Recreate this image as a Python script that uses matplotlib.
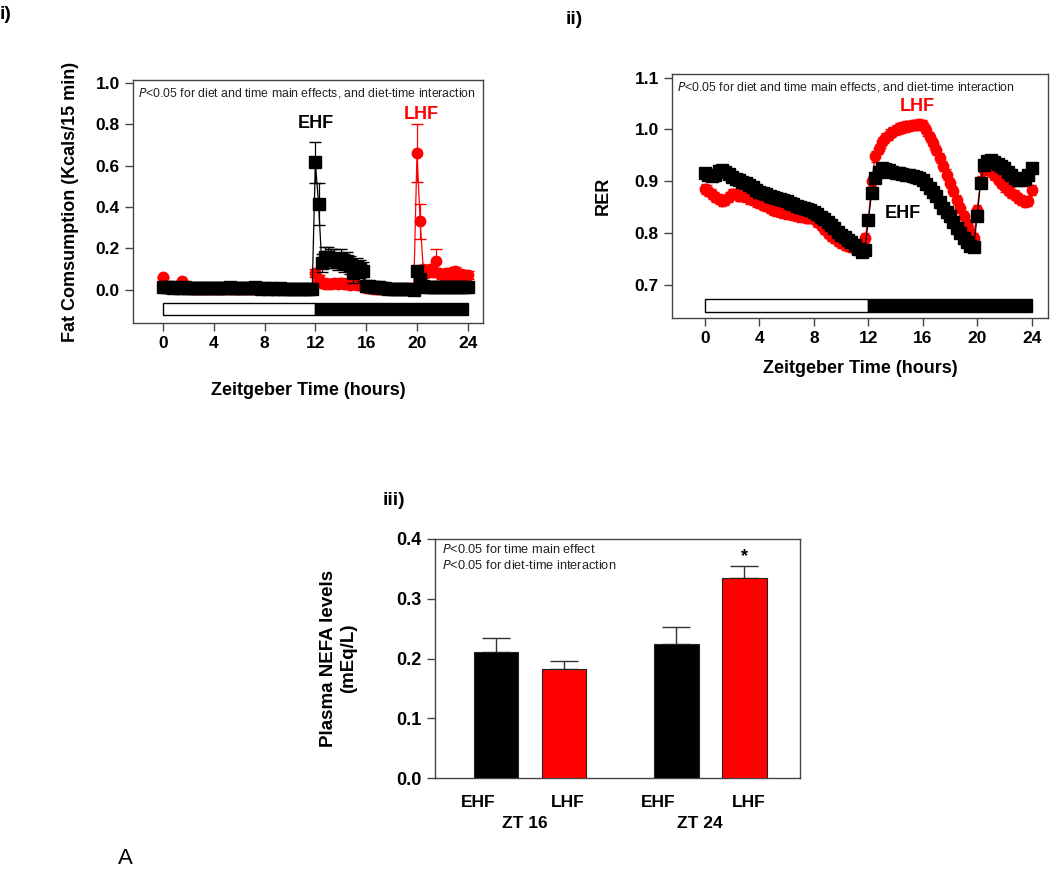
import numpy as np
import matplotlib
matplotlib.use("Agg")
import matplotlib.pyplot as plt
from matplotlib.patches import Rectangle

plt.rcParams['font.family'] = ['Liberation Sans', 'DejaVu Sans']

# time axis, 15 min bins
zt = np.arange(97) * 0.25

# fat consumption (Kcals/15 min)
fat_ehf = [0.015, 0.012, 0.012, 0.010, 0.012, 0.010, 0.010, 0.012,
           0.010, 0.008, 0.010, 0.008, 0.008, 0.010, 0.008, 0.008,
           0.010, 0.008, 0.008, 0.010, 0.008, 0.012, 0.010, 0.008,
           0.008, 0.010, 0.010, 0.008, 0.008, 0.012, 0.008, 0.006,
           0.008, 0.006, 0.008, 0.006, 0.006, 0.008, 0.006, 0.004,
           0.004, 0.003, 0.002, 0.002, 0.002, 0.002, 0.003, 0.003,
           0.615, 0.415, 0.130, 0.160, 0.160, 0.150, 0.150, 0.140,
           0.150, 0.130, 0.140, 0.120, 0.080, 0.110, 0.100, 0.090,
           0.020, 0.018, 0.015, 0.015, 0.012, 0.010, 0.008, 0.006,
           0.006, 0.004, 0.004, 0.005, 0.004, 0.003, 0.002, 0.000,
           0.090, 0.050, 0.020, 0.015, 0.012, 0.012, 0.015, 0.012,
           0.012, 0.015, 0.012, 0.012, 0.015, 0.012, 0.012, 0.015,
           0.015]
fat_ehf_err = [0.005] * 48 + [0.10, 0.10] + [0.045] * 14 + [0.006] * 16 + \
              [0.02, 0.01] + [0.006] * 15
fat_lhf = [0.060, 0.010, 0.008, 0.008, 0.008, 0.008, 0.042, 0.008,
           0.006, 0.005, 0.005, 0.005, 0.004, 0.005, 0.004, 0.004,
           0.004, 0.005, 0.004, 0.004, 0.004, 0.004, 0.005, 0.004,
           0.004, 0.004, 0.005, 0.004, 0.004, 0.004, 0.004, 0.003,
           0.004, 0.003, 0.004, 0.003, 0.003, 0.004, 0.003, 0.003,
           0.003, 0.003, 0.003, 0.003, 0.003, 0.004, 0.004, 0.005,
           0.080, 0.050, 0.035, 0.030, 0.030, 0.028, 0.032, 0.030,
           0.035, 0.030, 0.028, 0.025, 0.028, 0.025, 0.022, 0.020,
           0.010, 0.008, 0.006, 0.005, 0.005, 0.004, 0.004, 0.004,
           0.004, 0.003, 0.003, 0.003, 0.003, 0.004, 0.005, 0.010,
           0.660, 0.330, 0.100, 0.080, 0.100, 0.085, 0.140, 0.080,
           0.070, 0.080, 0.065, 0.085, 0.090, 0.065, 0.075, 0.070,
           0.070]
fat_lhf_err = [0.004] * 48 + [0.02] * 32 + [0.14, 0.085, 0.02, 0.02, 0.02, 0.02,
              0.055] + [0.02] * 10

# RER
rer_ehf = [0.915, 0.912, 0.910, 0.912, 0.920, 0.922, 0.918, 0.914,
           0.909, 0.905, 0.902, 0.899, 0.897, 0.893, 0.889, 0.884,
           0.880, 0.878, 0.875, 0.872, 0.870, 0.868, 0.866, 0.863,
           0.861, 0.858, 0.856, 0.853, 0.851, 0.849, 0.846, 0.844,
           0.841, 0.836, 0.831, 0.827, 0.822, 0.815, 0.809, 0.803,
           0.797, 0.792, 0.787, 0.782, 0.777, 0.770, 0.763, 0.768,
           0.825, 0.878, 0.906, 0.918, 0.925, 0.924, 0.921, 0.918,
           0.916, 0.915, 0.914, 0.913, 0.912, 0.911, 0.909, 0.907,
           0.903, 0.895, 0.887, 0.880, 0.872, 0.860, 0.848, 0.840,
           0.832, 0.821, 0.810, 0.800, 0.791, 0.783, 0.776, 0.774,
           0.832, 0.897, 0.932, 0.940, 0.941, 0.938, 0.934, 0.930,
           0.925, 0.918, 0.912, 0.907, 0.903, 0.902, 0.905, 0.912,
           0.925]
rer_lhf = [0.885, 0.882, 0.876, 0.870, 0.866, 0.862, 0.864, 0.870,
           0.875, 0.876, 0.872, 0.871, 0.870, 0.867, 0.864, 0.861,
           0.858, 0.855, 0.852, 0.848, 0.845, 0.843, 0.841, 0.840,
           0.838, 0.837, 0.835, 0.834, 0.832, 0.831, 0.830, 0.830,
           0.829, 0.822, 0.815, 0.808, 0.800, 0.795, 0.790, 0.785,
           0.781, 0.778, 0.775, 0.773, 0.771, 0.770, 0.772, 0.790,
           0.825, 0.900, 0.948, 0.962, 0.975, 0.983, 0.990, 0.995,
           0.999, 1.002, 1.004, 1.006, 1.007, 1.008, 1.009, 1.010,
           1.008, 0.998, 0.986, 0.973, 0.960, 0.945, 0.929, 0.913,
           0.897, 0.881, 0.864, 0.848, 0.832, 0.818, 0.803, 0.790,
           0.845, 0.900, 0.922, 0.925, 0.920, 0.912, 0.905, 0.897,
           0.890, 0.884, 0.878, 0.873, 0.868, 0.864, 0.860, 0.862,
           0.883]
rer_ehf_err = [0.004] * 97
rer_lhf_err = [0.010] * 97

# plasma NEFA
nefa_groups = ['EHF', 'LHF', 'EHF', 'LHF']
nefa_vals = [0.211, 0.183, 0.225, 0.335]
nefa_err = [0.023, 0.012, 0.028, 0.019]
nefa_colors = ['black', 'red', 'black', 'red']
nefa_pos = [0, 1, 2.65, 3.65]
nefa_label_pos = [-0.265, 1.06, 2.38, 3.71]
zt_groups = ['ZT 16', 'ZT 24']
zt_group_pos = [0.43, 3.0]

fig = plt.figure(figsize=(10.5, 8.73), dpi=100)

spine_col = '#444444'


def style(ax):
    for s in ax.spines.values():
        s.set_color(spine_col)
        s.set_linewidth(1.0)
    ax.tick_params(direction='out', length=6, width=1, color=spine_col,
                   labelsize=12.5, top=False, right=False)
    for lab in ax.get_xticklabels() + ax.get_yticklabels():
        lab.set_fontweight('bold')


def light_dark(ax, y0, h):
    ax.add_patch(Rectangle((0, y0), 12, h, facecolor='white', edgecolor='black', lw=1, zorder=3))
    ax.add_patch(Rectangle((12, y0), 12, h, facecolor='black', edgecolor='black', lw=1, zorder=3))


ptxt = '$\\it{P}$<0.05 for diet and time main effects, and diet-time interaction'

# ---- panel i
ax1 = fig.add_axes([0.1267, 0.630, 0.3333, 0.2784])
ax1.errorbar(zt, fat_lhf, yerr=fat_lhf_err, color='red', lw=0.9, marker='o', ms=7.5,
             capsize=4, elinewidth=0.9, zorder=4)
ax1.errorbar(zt, fat_ehf, yerr=fat_ehf_err, color='black', lw=0.9, marker='s', ms=9,
             capsize=4, elinewidth=0.9, zorder=5)
light_dark(ax1, -0.12, 0.057)
ax1.set_xlim(-2.36, 25.2)
ax1.set_ylim(-0.16, 1.013)
ax1.set_xticks(range(0, 25, 4))
ax1.set_yticks([0.0, 0.2, 0.4, 0.6, 0.8, 1.0])
ax1.set_yticklabels(['0.0', '0.2', '0.4', '0.6', '0.8', '1.0'])
style(ax1)
ax1.set_xlabel('Zeitgeber Time (hours)', fontsize=13, fontweight='bold', labelpad=22)
ax1.set_ylabel('Fat Comsumption (Kcals/15 min)', fontsize=13, fontweight='bold', labelpad=12)
ax1.text(0.013, 0.975, ptxt, transform=ax1.transAxes, fontsize=8.8, va='top', ha='left',
         color='#222222')
ax1.text(12.0, 0.805, 'EHF', fontsize=13, fontweight='bold', ha='center', va='center')
ax1.text(20.3, 0.845, 'LHF', fontsize=13, fontweight='bold', ha='center', va='center', color='red')
fig.text(0.0, 0.983, 'i)', fontsize=14, fontweight='bold', ha='left', va='center')

# ---- panel ii
ax2 = fig.add_axes([0.640, 0.6357, 0.358, 0.2795])
ax2.errorbar(zt, rer_lhf, yerr=rer_lhf_err, color='red', lw=0.9, marker='o', ms=7.5,
             capsize=3, elinewidth=0.8, zorder=4)
ax2.errorbar(zt, rer_ehf, yerr=rer_ehf_err, color='black', lw=0.9, marker='s', ms=9,
             capsize=3, elinewidth=0.8, zorder=5)
light_dark(ax2, 0.648, 0.025)
ax2.set_xlim(-2.43, 25.2)
ax2.set_ylim(0.636, 1.107)
ax2.set_xticks(range(0, 25, 4))
ax2.set_yticks([0.7, 0.8, 0.9, 1.0, 1.1])
style(ax2)
ax2.set_xlabel('Zeitgeber Time (hours)', fontsize=13, fontweight='bold', labelpad=10)
ax2.set_ylabel('RER', fontsize=13, fontweight='bold', labelpad=16)
ax2.text(0.013, 0.975, ptxt, transform=ax2.transAxes, fontsize=8.8, va='top', ha='left',
         color='#222222')
ax2.text(15.6, 1.045, 'LHF', fontsize=13, fontweight='bold', ha='center', va='center', color='red')
ax2.text(14.5, 0.837, 'EHF', fontsize=13, fontweight='bold', ha='center', va='center')
fig.text(0.539, 0.978, 'ii)', fontsize=14, fontweight='bold', ha='left', va='center')

# ---- panel iii
ax3 = fig.add_axes([0.4143, 0.1088, 0.3476, 0.2738])
ax3.bar(nefa_pos, nefa_vals, width=0.66, color=nefa_colors, edgecolor='#222222', lw=0.8, zorder=3)
ax3.errorbar(nefa_pos, nefa_vals, yerr=[[0] * 4, nefa_err], fmt='none', ecolor='#333333',
             elinewidth=1, capsize=10, capthick=1, zorder=2)
ax3.set_xlim(-0.897, 4.47)
ax3.set_ylim(0, 0.4)
ax3.set_xticks(nefa_label_pos)
ax3.set_xticklabels(nefa_groups)
ax3.set_yticks([0.0, 0.1, 0.2, 0.3, 0.4])
style(ax3)
ax3.tick_params(axis='x', length=0, pad=12)
ax3.tick_params(axis='y', labelsize=13)
ax3.set_ylabel('Plasma NEFA levels\n(mEq/L)', fontsize=13.5, fontweight='bold', labelpad=28,
               linespacing=1.3)
ax3.text(0.02, 0.985, '$\\it{P}$<0.05 for time main effect\n$\\it{P}$<0.05 for diet-time interaction',
         transform=ax3.transAxes, fontsize=9.2, va='top', ha='left', color='#222222', linespacing=1.3)
ax3.text(nefa_pos[3], nefa_vals[3] + nefa_err[3] + 0.002, '*', fontsize=13, fontweight='bold',
         ha='center', va='bottom')
for lab, x in zip(zt_groups, zt_group_pos):
    ax3.text(x, -0.19, lab, fontsize=12.5, fontweight='bold', ha='center', va='center',
             transform=ax3.get_xaxis_transform())
fig.text(0.364, 0.427, 'iii)', fontsize=14, fontweight='bold', ha='left', va='center')

fig.text(0.112, 0.017, 'A', fontsize=16, ha='left', va='center')

fig.savefig('out.png', dpi=100)
